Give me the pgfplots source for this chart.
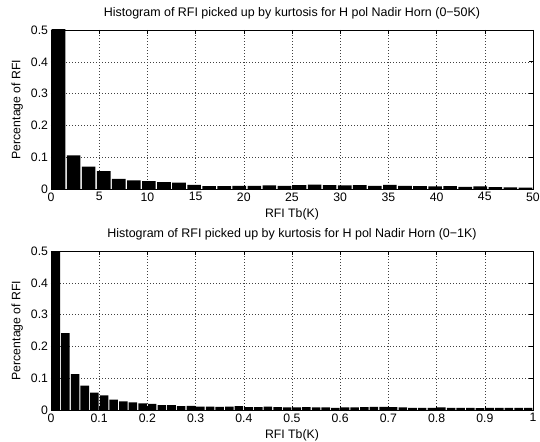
\documentclass[border=0pt]{standalone}
\usepackage{pgfplots}
\pgfplotsset{compat=1.18}
\usepackage{pgfplotstable}
\usepackage{fontspec}
\setmainfont{Liberation Sans}

\pgfplotstableread{
x y
0.781 0.6
2.344 0.106
3.906 0.070
5.469 0.056
7.031 0.032
8.594 0.027
10.156 0.025
11.719 0.022
13.281 0.020
14.844 0.013
16.406 0.009
17.969 0.009
19.531 0.010
21.094 0.010
22.656 0.011
24.219 0.010
25.781 0.012
27.344 0.014
28.906 0.012
30.469 0.011
32.031 0.012
33.594 0.010
35.156 0.013
36.719 0.010
38.281 0.009
39.844 0.008
41.406 0.009
42.969 0.007
44.531 0.008
46.094 0.006
47.656 0.005
49.219 0.004
}\topdata

\pgfplotstableread{
x y
0.01 0.6
0.03 0.242
0.05 0.1125
0.07 0.077
0.09 0.055
0.11 0.046
0.13 0.033
0.15 0.027
0.17 0.024
0.19 0.021
0.21 0.019
0.23 0.015
0.25 0.015
0.27 0.012
0.29 0.013
0.31 0.011
0.33 0.011
0.35 0.010
0.37 0.011
0.39 0.012
0.41 0.009
0.43 0.009
0.45 0.011
0.47 0.009
0.49 0.008
0.51 0.008
0.53 0.009
0.55 0.008
0.57 0.008
0.59 0.007
0.61 0.008
0.63 0.008
0.65 0.009
0.67 0.010
0.69 0.010
0.71 0.009
0.73 0.008
0.75 0.007
0.77 0.007
0.79 0.007
0.81 0.008
0.83 0.007
0.85 0.007
0.87 0.007
0.89 0.006
0.91 0.007
0.93 0.007
0.95 0.007
0.97 0.007
0.99 0.007
}\botdata

\pgfplotsset{mystyle/.style={
  scale only axis, width=482bp, height=159bp,
  ymin=0, ymax=0.5, ytick={0,0.1,0.2,0.3,0.4,0.5},
  grid=major,
  major grid style={black!75, line width=0.5bp, dash pattern=on 0.7bp off 2.3bp},
  axis line style={line width=0.8bp},
  every tick/.style={black, line width=0.6bp},
  major tick length=4bp,
  tick align=inside,
  tick label style={font=\fontsize{12.3}{14}\selectfont},
  /pgf/number format/assume math mode=true,
  yticklabel style={/pgf/number format/fixed, xshift=0.5bp},
  xticklabel style={/pgf/number format/fixed},
  label style={font=\fontsize{12.3}{14}\selectfont},
  title style={font=\fontsize{12.5}{14}\selectfont, at={(axis description cs:0.5,1.07)}, anchor=center},
  xlabel style={at={(axis description cs:0.5,-0.16)}, anchor=center},
  ylabel style={at={(axis description cs:-0.07,0.5)}, anchor=center},
  ylabel={Percentage of RFI}, xlabel={RFI Tb(K)},
}}

\begin{document}
\begin{tikzpicture}
\useasboundingbox (0,0) rectangle (540bp,442bp);
\begin{axis}[mystyle, at={(51bp,253bp)}, anchor=south west,
  xmin=0, xmax=50, xtick={0,5,10,15,20,25,30,35,40,45,50},
  title={Histogram of RFI picked up by kurtosis for H pol Nadir Horn (0−50K)}]
\addplot[ybar, bar width=1.42, fill=black, draw=none] table {\topdata};
\end{axis}
\begin{axis}[mystyle, at={(51bp,32bp)}, anchor=south west,
  xmin=0, xmax=1, xtick={0,0.1,0.2,0.3,0.4,0.5,0.6,0.7,0.8,0.9,1},
  title={Histogram of RFI picked up by kurtosis for H pol Nadir Horn (0−1K)}]
\addplot[ybar, bar width=0.0177, fill=black, draw=none] table {\botdata};
\end{axis}
\end{tikzpicture}
\end{document}
